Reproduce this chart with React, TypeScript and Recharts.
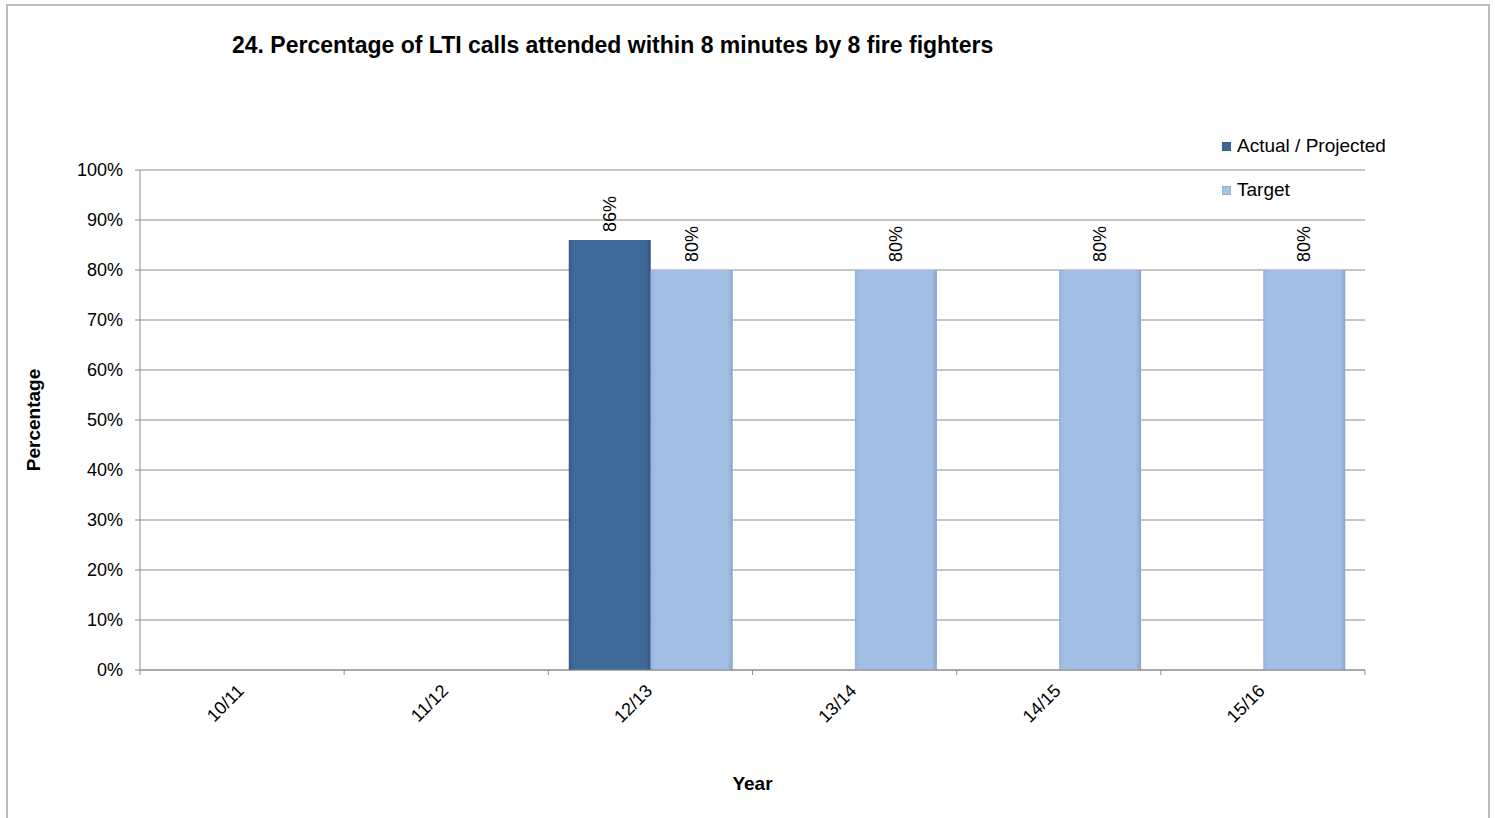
import { BarChart, Bar, XAxis, YAxis, CartesianGrid, LabelList } from 'recharts';

const years = ['10/11', '11/12', '12/13', '13/14', '14/15', '15/16'];
const actual = [null, null, 0.86, null, null, null];
const target = [null, null, 0.8, 0.8, 0.8, 0.8];
const yTicks = [0, 0.1, 0.2, 0.3, 0.4, 0.5, 0.6, 0.7, 0.8, 0.9, 1];

const chartData = years.map((year, i) => ({ year, actual: actual[i], target: target[i] }));

const FONT = '"Liberation Sans", Arial, sans-serif';
const AXIS = '#8c8c8c';

const pct = (v: number) => `${Math.round(v * 100)}%`;

function YearTick(props: any) {
    const { x, y, payload, index } = props;
    const half = payload?.offset ?? 102;
    const tx = x + 3;
    const ty = y + 14;
    return (
        <g>
            <line x1={x - half} y1={y - 8} x2={x - half} y2={y - 3} stroke={AXIS} />
            {index === years.length - 1 && (
                <line x1={x + half} y1={y - 8} x2={x + half} y2={y - 3} stroke={AXIS} />
            )}
            <text
                x={tx}
                y={ty}
                transform={`rotate(-45, ${tx}, ${ty})`}
                textAnchor="end"
                fontSize={18}
                fontFamily={FONT}
                fill="#000"
            >
                {payload.value}
            </text>
        </g>
    );
}

function BarValue(props: any) {
    const { x, y, width, value } = props;
    if (value == null) return null;
    const cx = x + width / 2;
    const cy = y - 8;
    return (
        <text
            x={cx}
            y={cy}
            transform={`rotate(-90, ${cx}, ${cy})`}
            textAnchor="start"
            dominantBaseline="central"
            fontSize={18}
            fontFamily={FONT}
            fill="#000"
        >
            {pct(value)}
        </text>
    );
}

function LegendBox({ color, label }: { color: string; label: string }) {
    return (
        <div style={{ display: 'flex', alignItems: 'center', height: 22 }}>
            <span style={{ width: 9, height: 9, background: color, marginRight: 6, boxShadow: 'inset 0 0 2px rgba(0,0,0,0.3)' }} />
            <span>{label}</span>
        </div>
    );
}

export default function App() {
    return (
        <div style={{ position: 'absolute', left: 0, top: 0, width: 1495, height: 818, background: '#fff', fontFamily: FONT }}>
            <div style={{ position: 'absolute', left: 6, top: 4, width: 1480, height: 830, border: '2px solid #bdbdbd' }} />
            <div style={{ position: 'absolute', left: 232, top: 32, fontSize: 23, fontWeight: 'bold', color: '#000', whiteSpace: 'nowrap' }}>
                24. Percentage of LTI calls attended within 8 minutes by 8 fire fighters
            </div>
            <div style={{ position: 'absolute', left: 1222, top: 135, fontSize: 19, color: '#000', whiteSpace: 'nowrap' }}>
                <LegendBox color="#3d6797" label="Actual / Projected" />
                <div style={{ height: 22 }} />
                <LegendBox color="#a9c3e6" label="Target" />
            </div>
            <BarChart
                width={1495}
                height={818}
                data={chartData}
                margin={{ top: 170, right: 130, bottom: 0, left: 0 }}
                barCategoryGap="10%"
                barGap={0}
                style={{ position: 'absolute', left: 0, top: 0 }}
            >
                <defs>
                    <linearGradient id="actualFill" x1="0" y1="0" x2="1" y2="0">
                        <stop offset="0%" stopColor="#35598a" />
                        <stop offset="6%" stopColor="#3f6999" />
                        <stop offset="94%" stopColor="#3f6999" />
                        <stop offset="100%" stopColor="#2f5482" />
                    </linearGradient>
                    <linearGradient id="targetFill" x1="0" y1="0" x2="1" y2="0">
                        <stop offset="0%" stopColor="#98b3da" />
                        <stop offset="6%" stopColor="#a2bee4" />
                        <stop offset="94%" stopColor="#a2bee4" />
                        <stop offset="100%" stopColor="#8aa4c8" />
                    </linearGradient>
                </defs>
                <CartesianGrid vertical={false} stroke={AXIS} />
                <XAxis
                    dataKey="year"
                    height={148}
                    stroke={AXIS}
                    tickLine={false}
                    tick={<YearTick />}
                    interval={0}
                    label={{ value: 'Year', position: 'insideBottom', offset: 28, fontSize: 19, fontWeight: 'bold', fill: '#000', fontFamily: FONT }}
                />
                <YAxis
                    width={140}
                    domain={[0, 1]}
                    ticks={yTicks}
                    tickFormatter={pct}
                    stroke={AXIS}
                    tickSize={5}
                    tickMargin={12}
                    tick={{ fontSize: 18, fill: '#000', fontFamily: FONT }}
                    label={{ value: 'Percentage', angle: -90, position: 'insideLeft', offset: 0, fontSize: 19, fontWeight: 'bold', fill: '#000', fontFamily: FONT, dx: 33, textAnchor: 'middle' }}
                />
                <Bar dataKey="actual" fill="url(#actualFill)" isAnimationActive={false}>
                    <LabelList dataKey="actual" content={<BarValue />} />
                </Bar>
                <Bar dataKey="target" fill="url(#targetFill)" isAnimationActive={false}>
                    <LabelList dataKey="target" content={<BarValue />} />
                </Bar>
            </BarChart>
        </div>
    );
}
